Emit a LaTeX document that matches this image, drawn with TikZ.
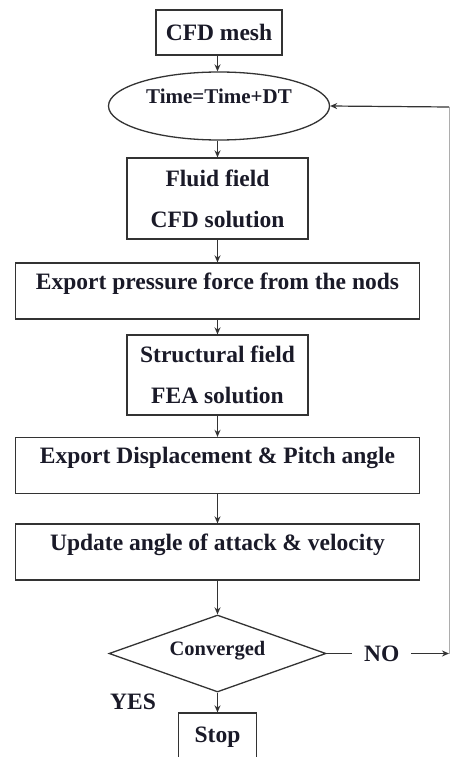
\documentclass[tikz,border=0pt]{standalone}
\usepackage{fontspec}
\setmainfont{Liberation Serif}
\usetikzlibrary{shapes.geometric,arrows.meta}
\definecolor{txt}{HTML}{1A1A28}
\definecolor{ln}{HTML}{333333}
\tikzset{
  every node/.style={font=\bfseries\fontsize{23.5}{27}\selectfont, text=txt},
  box/.style={draw=ln, line width=1.3pt, rectangle, inner sep=0pt, align=center},
  onebox/.style={box, text height=26pt, text depth=30pt},
  flow/.style={draw=ln, line width=1.2pt, -{Stealth[length=7pt,width=6pt]}},
  plain/.style={draw=ln, line width=1.2pt},
}
\begin{document}
\begin{tikzpicture}[x=1pt,y=-1pt]
\path[use as bounding box, clip] (0,0) rectangle (451,757);
\fill[white] (0,0) rectangle (451,757);
\node[box, minimum width=126pt, minimum height=45pt] (mesh) at (219,32.5) {CFD mesh};
\node[draw=ln, line width=1.3pt, ellipse, inner sep=0pt, minimum width=221pt, minimum height=68pt, text height=10pt, text depth=16pt, font=\bfseries\fontsize{21}{24}\selectfont] (time) at (219,106) {Time=Time+DT};
\node[box, minimum width=181pt, minimum height=81pt] (fluid) at (217.5,198.5) {Fluid field\\[14pt]CFD solution};
\node[onebox, minimum width=404pt] (press) at (217.5,291) {Export pressure force from the nods};
\node[box, minimum width=181pt, minimum height=80pt] (struct) at (217.5,375) {Structural field\\[14pt]FEA solution};
\node[onebox, minimum width=404pt] (disp) at (217.5,465.5) {Export Displacement \& Pitch angle};
\node[onebox, minimum width=404pt] (upd) at (217.5,552) {Update angle of attack \& velocity};
\node[draw=ln, line width=1.3pt, diamond, aspect=2.8, inner sep=0pt, minimum width=217pt, minimum height=77pt, text height=12pt, text depth=8pt, font=\bfseries\fontsize{20.5}{24}\selectfont] (conv) at (217.5,653.5) {Converged};
\node[box, minimum width=78pt, text height=29pt, text depth=31pt] (stop) at (217.5,743) {Stop};
\node (yes) at (133,702) {YES};
\coordinate (c1) at (449,653.5);
\coordinate (c2) at (449,107);

\draw[flow] (mesh.south -| fluid.north) -- (time.north -| fluid.north);
\draw[flow] (time.south -| fluid.north) -- (fluid);
\draw[flow] (fluid) -- (press);
\draw[flow] (press) -- (struct);
\draw[flow] (struct) -- (disp);
\draw[flow] (disp) -- (upd);
\draw[flow] (upd) -- (conv);
\draw[flow] (conv) -- (stop);
\draw[flow] (conv.east) -- node[pos=0.45, fill=white, inner xsep=12pt, inner ysep=2pt] (no) {NO} (c1);
\draw[plain, line width=0.8pt, draw=ln!40] (c1) -- (c2);
\draw[flow] (c2) -- (time.east);
\end{tikzpicture}
\end{document}
